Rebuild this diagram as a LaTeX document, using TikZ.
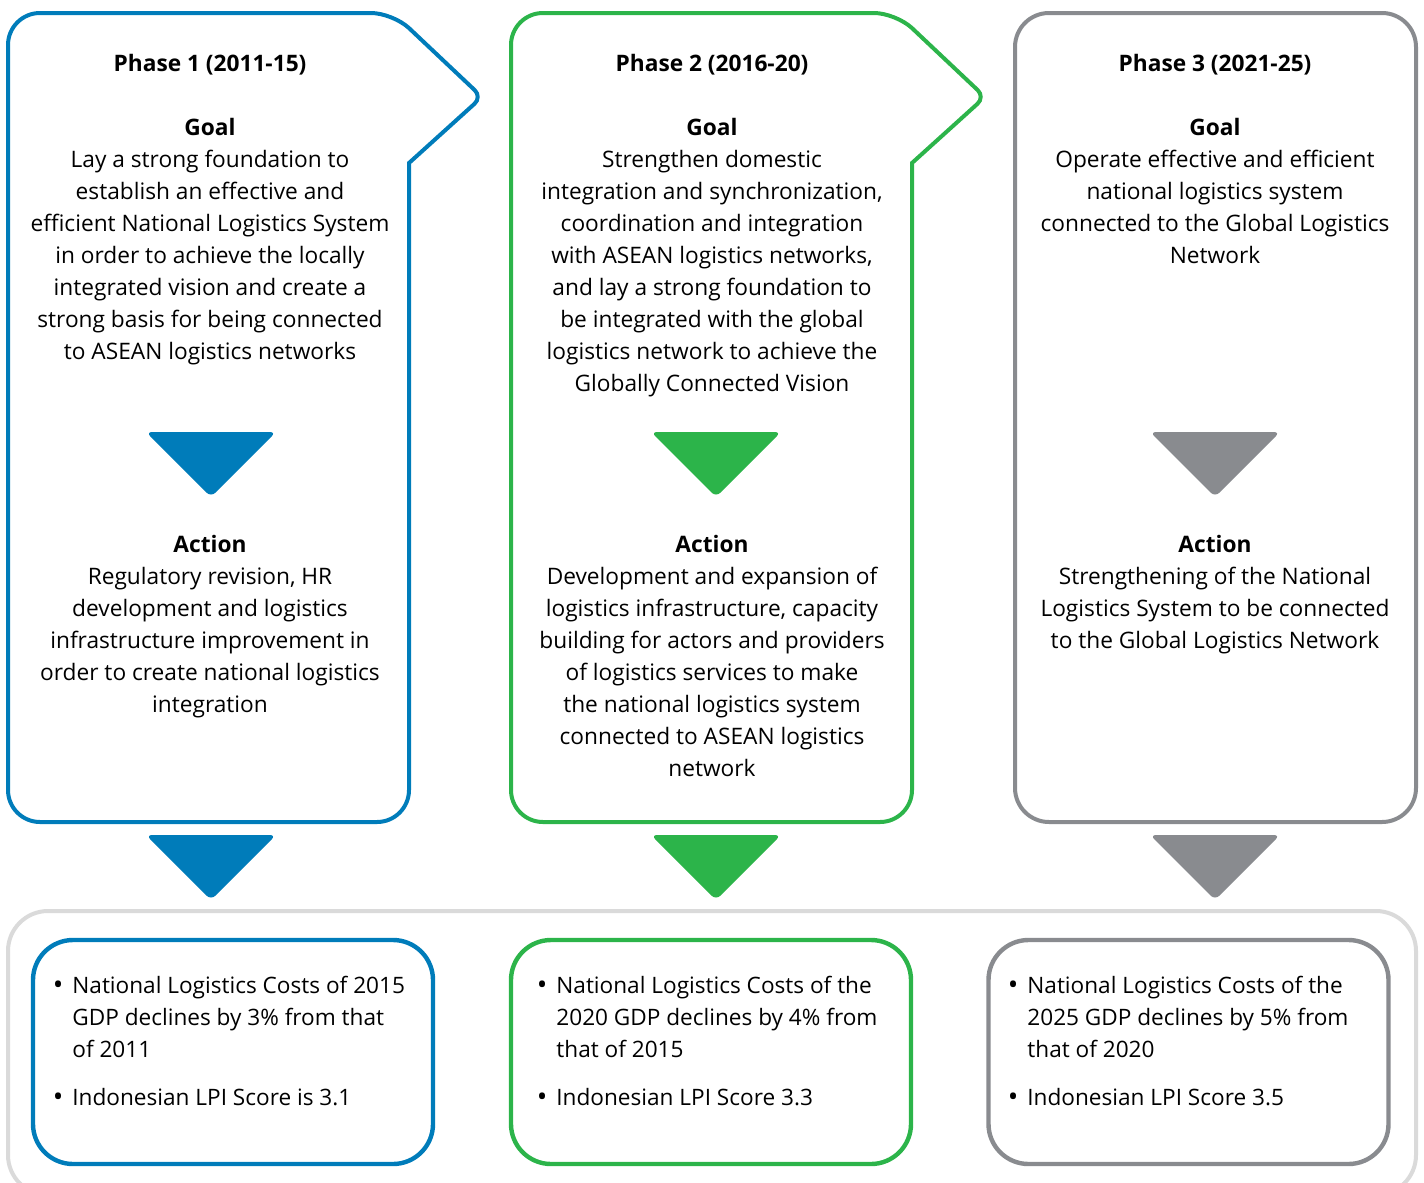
\documentclass[tikz,border=0pt]{standalone}
\usepackage{fontspec}
\setmainfont{Open Sans}
\definecolor{cblue}{RGB}{0,124,186}
\definecolor{cgreen}{RGB}{44,180,74}
\definecolor{cgrey}{RGB}{137,139,143}
\definecolor{clight}{RGB}{218,218,218}
\newcommand\fstrut{\rule{0pt}{12pt}}
\newcommand\bulletmark{\makebox[0pt][r]{\raisebox{-0.3pt}{\fontsize{14}{16}\selectfont •}\hspace{4.5pt}}}
\begin{document}
\begin{tikzpicture}[x=0.5pt,y=-0.5pt,
  txt/.style={inner sep=0pt, anchor=north, align=center, font=\fontsize{11.35}{16}\selectfont},
  bul/.style={inner sep=0pt, anchor=north west, align=left, font=\fontsize{11.3}{16}\selectfont},
  resbox/.style={draw=#1, line width=2.2pt, rounded corners=20pt, minimum width=200pt, minimum height=112pt, inner sep=0pt},
  tri/.pic={\path[pic actions, rounded corners=3pt] (-65,0) -- (65,0) -- (0,65) -- cycle;},
  tabpanel/.pic={\path[pic actions] (0,400) [rounded corners=16pt] -- (0,809) -- (401,809) [sharp corners] -- (401,150) [rounded corners=5pt] -- (474,84) [rounded corners=11pt] -- (385,0) [rounded corners=16pt] -- (0,0) -- cycle;}
]
\useasboundingbox (0,0) rectangle (1424,1183);
% outer light frame
\begin{scope}
\clip (0,0) rectangle (1424,1183);
\draw[clight, line width=2pt, rounded corners=20pt] (8,911) rectangle (1416,1195);
\end{scope}
% panels
\pic[draw=cblue, line width=2pt] at (8,13) {tabpanel};
\pic[draw=cgreen, line width=2pt] at (511,13) {tabpanel};
\draw[cgrey, line width=2pt, rounded corners=17pt] (1015,13) rectangle (1416,822);
% triangles
\pic[fill=cblue] at (211,432) {tri};
\pic[fill=cgreen] at (716,432) {tri};
\pic[fill=cgrey] at (1215,432) {tri};
\pic[fill=cblue] at (211,835) {tri};
\pic[fill=cgreen] at (716,835) {tri};
\pic[fill=cgrey] at (1215,835) {tri};
% panel 1 text
\node[txt] (t1) at (210,47) {\fstrut\textbf{Phase 1 (2011-15)}};
\node[txt] (g1) at (210,111) {\fstrut\textbf{Goal}\\Lay a strong foundation to\\establish an effective and\\efficient National Logistics System\\in order to achieve the locally\\integrated vision and create a\\strong basis for being connected\\to ASEAN logistics networks};
\node[txt] (a1) at (210,528) {\fstrut\textbf{Action}\\Regulatory revision, HR\\development and logistics\\infrastructure improvement in\\order to create national logistics\\integration};
% panel 2 text
\node[txt] (t2) at (712,47) {\fstrut\textbf{Phase 2 (2016-20)}};
\node[txt] (g2) at (712,111) {\fstrut\textbf{Goal}\\Strengthen domestic\\integration and synchronization,\\coordination and integration\\with ASEAN logistics networks,\\and lay a strong foundation to\\be integrated with the global\\logistics network to achieve the\\Globally Connected Vision};
\node[txt] (a2) at (712,528) {\fstrut\textbf{Action}\\Development and expansion of\\logistics infrastructure, capacity\\building for actors and providers\\of logistics services to make\\the national logistics system\\connected to ASEAN logistics\\network};
% panel 3 text
\node[txt] (t3) at (1215,47) {\fstrut\textbf{Phase 3 (2021-25)}};
\node[txt] (g3) at (1215,111) {\fstrut\textbf{Goal}\\Operate effective and efficient\\national logistics system\\connected to the Global Logistics\\Network};
\node[txt] (a3) at (1215,528) {\fstrut\textbf{Action}\\Strengthening of the National\\Logistics System to be connected\\to the Global Logistics Network};
% result boxes
\node[resbox=cblue] (r1) at (233,1052) {};
\node[resbox=cgreen] (r2) at (711,1052) {};
\node[resbox=cgrey] (r3) at (1188.5,1052) {};
\node[bul] (b1) at (72,969) {\fstrut\bulletmark National Logistics Costs of 2015\\GDP declines by 3\% from that\\of 2011\\[8pt]\bulletmark Indonesian LPI Score is 3.1};
\node[bul] (b2) at (556,969) {\fstrut\bulletmark National Logistics Costs of the\\2020 GDP declines by 4\% from\\that of 2015\\[8pt]\bulletmark Indonesian LPI Score 3.3};
\node[bul] (b3) at (1027,969) {\fstrut\bulletmark National Logistics Costs of the\\2025 GDP declines by 5\% from\\that of 2020\\[8pt]\bulletmark Indonesian LPI Score 3.5};
\end{tikzpicture}
\end{document}
